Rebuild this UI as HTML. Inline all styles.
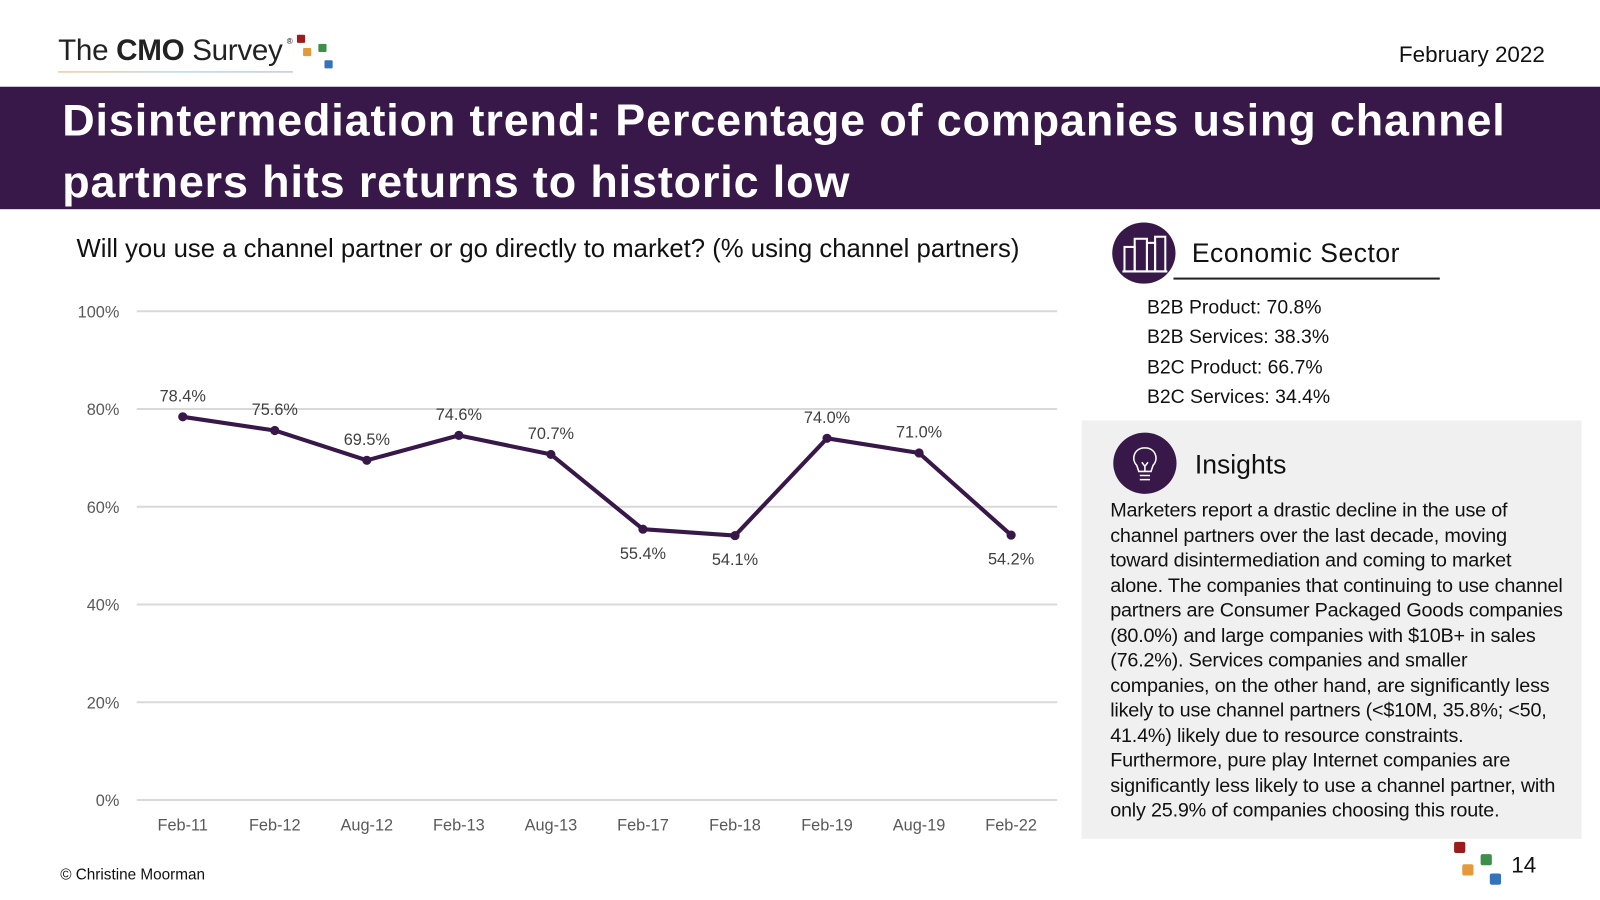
<!DOCTYPE html>
<html><head><meta charset="utf-8">
<style>
html,body{margin:0;padding:0;width:1600px;height:900px;overflow:hidden;background:#fff;}
#wrap{position:absolute;left:0;top:0;width:1568px;height:882px;transform:scale(1.020408);transform-origin:0 0;font-family:"Liberation Sans",sans-serif;color:#111;}
.abs{position:absolute;}
</style></head><body>
<div id="wrap">
  <div class="abs" style="left:57px;top:34px;width:280px;height:40px;">
    <span style="font-size:29px;letter-spacing:-0.3px;color:#222;">The <b>CMO</b> Survey</span><sup style="font-size:8px;position:absolute;top:2px;left:224px;">®</sup>
    <div class="abs" style="left:0;top:36px;width:230px;height:1px;background:linear-gradient(90deg,#e8b070,#9cc,#aac);"></div>
    <div class="abs" style="left:234px;top:0;width:8px;height:8px;background:#9b1c1c;border-radius:1px;"></div>
    <div class="abs" style="left:240px;top:13px;width:8px;height:8px;background:#e6993a;border-radius:1px;"></div>
    <div class="abs" style="left:255px;top:9px;width:8px;height:8px;background:#3d8f4a;border-radius:1px;"></div>
    <div class="abs" style="left:261px;top:25px;width:8px;height:8px;background:#3473bb;border-radius:1px;"></div>
  </div>
  <div class="abs" style="right:54px;top:41px;font-size:22px;">February 2022</div>
  <div class="abs" style="left:0;top:85px;width:1568px;height:120px;background:#371849;">
    <div style="position:absolute;left:61px;top:4px;color:#fff;font-size:44px;font-weight:bold;letter-spacing:0.85px;line-height:60px;">Disintermediation trend: Percentage of companies using channel<br>partners hits returns to historic low</div>
  </div>
  <div class="abs" style="left:75px;top:230px;font-size:25.2px;">Will you use a channel partner or go directly to market? (% using channel partners)</div>
  <svg class="abs" id="chart" style="left:0;top:280px;" width="1050" height="560"></svg>

  <div class="abs" style="left:1090px;top:218px;width:62px;height:60px;border-radius:50%;background:#371849;">
    <svg width="62" height="60" viewBox="0 0 62 60"><g fill="none" stroke="#fff" stroke-width="2"><rect x="12" y="24" width="10" height="24"/><rect x="22" y="16" width="12" height="32"/><rect x="34" y="20" width="8" height="28"/><rect x="42" y="14" width="10" height="34"/><line x1="10" y1="48" x2="54" y2="48"/></g></svg>
  </div>
  <div class="abs" style="left:1168px;top:233px;font-size:26px;letter-spacing:0.5px;">Economic Sector</div>
  <div class="abs" style="left:1150px;top:272px;width:261px;height:2px;background:#222;"></div>
  <div class="abs" style="left:1124px;top:287px;font-size:19px;line-height:29.3px;">B2B Product: 70.8%<br>B2B Services: 38.3%<br>B2C Product: 66.7%<br>B2C Services: 34.4%</div>

  <div class="abs" style="left:1060px;top:412px;width:490px;height:410px;background:#f0f0f0;">
    <div class="abs" style="left:31px;top:12px;width:62px;height:60px;border-radius:50%;background:#371849;">
      <svg width="62" height="60"><g fill="none" stroke="#fff" stroke-width="1.5"><path d="M31 15 a10 10 0 0 1 8 17 l-2 6 h-12 l-2 -6 a10 10 0 0 1 8 -17z"/><line x1="26" y1="42" x2="36" y2="42"/><line x1="26" y1="46" x2="36" y2="46"/><path d="M28 29 l3 4 l3 -4 M31 33 v5"/></g></svg>
    </div>
    <div class="abs" style="left:111px;top:28px;font-size:26px;">Insights</div>
    <div class="abs" style="left:28px;top:76px;width:448px;font-size:19.4px;line-height:24.5px;letter-spacing:-0.2px;">Marketers report a drastic decline in the use of channel partners over the last decade, moving toward disintermediation and coming to market alone. The companies that continuing to use channel partners are Consumer Packaged Goods companies (80.0%) and large companies with $10B+ in sales (76.2%). Services companies and smaller companies, on the other hand, are significantly less likely to use channel partners (&lt;$10M, 35.8%; &lt;50, 41.4%) likely due to resource constraints. Furthermore, pure play Internet companies are significantly less likely to use a channel partner, with only 25.9% of companies choosing this route.</div>
  </div>
  <div class="abs" style="left:1425px;top:825px;width:50px;height:45px;">
    <div class="abs" style="left:0;top:0;width:11px;height:11px;background:#9b1c1c;border-radius:2px;"></div>
    <div class="abs" style="left:8px;top:22px;width:11px;height:11px;background:#e6993a;border-radius:2px;"></div>
    <div class="abs" style="left:26px;top:12px;width:11px;height:11px;background:#3d8f4a;border-radius:2px;"></div>
    <div class="abs" style="left:35px;top:31px;width:11px;height:11px;background:#3473bb;border-radius:2px;"></div>
  </div>
  <div class="abs" style="left:1481px;top:835px;font-size:22px;">14</div>
  <div class="abs" style="left:59px;top:849px;font-size:15px;">© Christine Moorman</div>
</div>
<script>
const categories=["Feb-11","Feb-12","Aug-12","Feb-13","Aug-13","Feb-17","Feb-18","Feb-19","Aug-19","Feb-22"];
const values=[78.4,75.6,69.5,74.6,70.7,55.4,54.1,74.0,71.0,54.2];
const valueLabels=["78.4%","75.6%","69.5%","74.6%","70.7%","55.4%","54.1%","74.0%","71.0%","54.2%"];
const labelBelow=[false,false,false,false,false,true,true,false,false,true];
const yTicks=[0,20,40,60,80,100];
const yTickLabels=["0%","20%","40%","60%","80%","100%"];
const svg=document.getElementById('chart');
const NS='http://www.w3.org/2000/svg';
const OY=280;
const x0=134,x1=1036,yTop=305-OY,yBot=784-OY;
const step=(x1-x0)/categories.length;
function xs(i){return x0+step*(i+0.5);}
function ys(v){return yBot-(v/100)*(yBot-yTop);}
function mk(tag,attrs){const e=document.createElementNS(NS,tag);for(const k in attrs)e.setAttribute(k,attrs[k]);svg.appendChild(e);return e;}
yTicks.forEach((t,i)=>{
  const g=mk('line',{x1:x0,x2:x1,y1:ys(t),y2:ys(t),stroke:'#d9d9d9','stroke-width':2});
  
  
  const tx=mk('text',{x:117,y:ys(t)+6,'text-anchor':'end','font-size':16,fill:'#595959','font-family':'Liberation Sans, sans-serif'});
  tx.textContent=yTickLabels[i];
  
  
});
categories.forEach((c,i)=>{
  const tx=mk('text',{x:xs(i),y:yBot+30,'text-anchor':'middle','font-size':16,fill:'#595959','font-family':'Liberation Sans, sans-serif'});
  tx.textContent=c;
  
  
});
const pl=mk('polyline',{points:values.map((v,i)=>xs(i)+','+ys(v)).join(' '),fill:'none',stroke:'#371849','stroke-width':4,'stroke-linejoin':'round'});


values.forEach((v,i)=>{
  const c=mk('circle',{cx:xs(i),cy:ys(v),r:4.5,fill:'#371849'});
  
  
  const t=mk('text',{x:xs(i),y:labelBelow[i]?ys(v)+29:ys(v)-15,'text-anchor':'middle','font-size':16,fill:'#404040','font-family':'Liberation Sans, sans-serif'});
  t.textContent=valueLabels[i];
  
  
});
</script>
</body></html>
